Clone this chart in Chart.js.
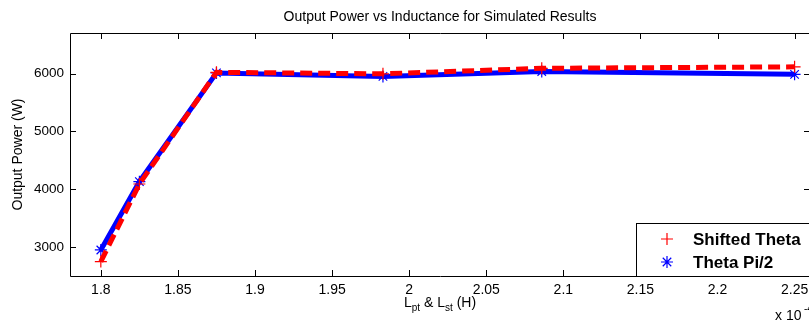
<!DOCTYPE html>
<html>
<head>
<meta charset="utf-8">
<script src="https://cdn.jsdelivr.net/npm/chart.js@4.4.0/dist/chart.umd.min.js"></script>
<style>
	html, body { margin: 0; padding: 0; background: #fff; overflow: hidden; }
	#wrap { width: 830px; height: 323px; }
</style>
</head>
<body>
<div id="wrap"><canvas id="chartPower" width="830" height="323"></canvas></div>
<script>
// inductance in units of 1e-4 H
const inductance = [1.8, 1.825, 1.875, 1.983, 2.086, 2.25];
const powerShifted = [2750, 4090, 6020, 5995, 6090, 6115];
const powerPiHalf = [2950, 4130, 6010, 5950, 6035, 5985];

const xTicks = [1.8, 1.85, 1.9, 1.95, 2, 2.05, 2.1, 2.15, 2.2, 2.25];
const yTicks = [3000, 4000, 5000, 6000];

const FONT = "'Liberation Sans', Arial, sans-serif";
const TITLE = "Output Power vs Inductance for Simulated Results";

function toPoints(ys) {
	return inductance.map(function(x, i){ return {x: x, y: ys[i]}; });
}

// box, inward ticks, legend and axis text that chart.js can't do (subscripts)
const matlabBox = {
	id: "matlabBox",
	afterDraw: function(chart) {
		const ctx = chart.ctx;
		const a = chart.chartArea;
		const xs = chart.scales.x, ys = chart.scales.y;
		const tl = 6;
		ctx.save();
		ctx.strokeStyle = "#000";
		ctx.lineWidth = 1;
		ctx.beginPath();
		ctx.rect(a.left + 0.5, a.top + 0.5, a.right - a.left, a.bottom - a.top);
		xTicks.forEach(function(v){
			const px = Math.round(xs.getPixelForValue(v)) + 0.5;
			ctx.moveTo(px, a.bottom); ctx.lineTo(px, a.bottom - tl);
			ctx.moveTo(px, a.top); ctx.lineTo(px, a.top + tl);
		});
		yTicks.forEach(function(v){
			const py = Math.round(ys.getPixelForValue(v)) + 0.5;
			ctx.moveTo(a.left, py); ctx.lineTo(a.left + tl, py);
			ctx.moveTo(a.right, py); ctx.lineTo(a.right - tl, py);
		});
		ctx.stroke();

		// title, centred over the axes
		ctx.fillStyle = "#000";
		ctx.font = "14px " + FONT;
		ctx.textAlign = "center";
		ctx.textBaseline = "middle";
		ctx.fillText(TITLE, (a.left + a.right) / 2, 17);

		// legend
		const lx = 636.5, ly = 223.5;
		ctx.fillStyle = "#fff";
		ctx.fillRect(lx, ly, 200, a.bottom - ly);
		ctx.strokeRect(lx, ly, 200, a.bottom - ly + 0.5);
		ctx.font = "bold 17px " + FONT;
		ctx.textBaseline = "middle";
		ctx.textAlign = "left";
		chart.data.datasets.forEach(function(ds, i){
			const yy = 239 + i * 23;
			ctx.strokeStyle = ds.borderColor;
			ctx.lineWidth = 1.2;
			Chart.helpers.drawPoint(ctx, {pointStyle: ds.pointStyle, radius: 6, borderWidth: 1.2, rotation: 0}, 667, yy);
			ctx.fillStyle = "#000";
			ctx.fillText(ds.label, 693, yy + 1);
		});

		// x axis title with subscripts
		const parts = [["L", 14, 0], ["pt", 10, 4], [" & L", 14, 0], ["st", 10, 4], [" (H)", 14, 0]];
		let w = 0;
		parts.forEach(function(p){ ctx.font = p[1] + "px " + FONT; w += ctx.measureText(p[0]).width; });
		let cx = (a.left + a.right) / 2 - w / 2;
		ctx.textBaseline = "alphabetic";
		parts.forEach(function(p){
			ctx.font = p[1] + "px " + FONT;
			ctx.fillText(p[0], cx, 307 + p[2]);
			cx += ctx.measureText(p[0]).width;
		});

		// exponent
		ctx.font = "14px " + FONT;
		ctx.fillText("x 10", 775, 320);
		ctx.font = "10px " + FONT;
		ctx.fillText("-4", 804, 312);
		ctx.restore();
	}
};

const powerChart = new Chart(document.getElementById("chartPower"), {
	type: "line",
	data: {
		datasets: [{
			label: "Shifted Theta",
			data: toPoints(powerShifted),
			borderColor: "#ff0000",
			backgroundColor: "#ff0000",
			borderWidth: 5,
			borderDash: [12, 6],
			borderCapStyle: "butt",
			pointStyle: "cross",
			pointRadius: 6,
			pointBorderWidth: 1.2,
			pointBorderColor: "#ff0000",
			tension: 0
		}, {
			label: "Theta Pi/2",
			data: toPoints(powerPiHalf),
			borderColor: "#0000ff",
			backgroundColor: "#0000ff",
			borderWidth: 5,
			pointStyle: "star",
			pointRadius: 6,
			pointBorderWidth: 1.2,
			pointBorderColor: "#0000ff",
			tension: 0
		}]
	},
	options: {
		responsive: false,
		animation: false,
		devicePixelRatio: 1,
		layout: { padding: { top: 33, right: 20, left: 0, bottom: 0 } },
		plugins: {
			legend: { display: false },
			tooltip: { enabled: false },
			title: { display: false }
		},
		scales: {
			x: {
				type: "linear",
				min: 1.78,
				max: 2.26,
				afterBuildTicks: function(scale){ scale.ticks = xTicks.map(function(v){ return {value: v}; }); },
				afterFit: function(scale){ scale.height = 47; },
				grid: { display: false, drawTicks: false },
				border: { display: false },
				ticks: {
					color: "#000",
					padding: 6,
					maxRotation: 0,
					font: { family: FONT, size: 14 },
					callback: function(v){ return String(v); }
				}
			},
			y: {
				min: 2500,
				max: 6700,
				afterBuildTicks: function(scale){ scale.ticks = yTicks.map(function(v){ return {value: v}; }); },
				afterFit: function(scale){ scale.width = 70; },
				grid: { display: false, drawTicks: false },
				border: { display: false },
				ticks: {
					color: "#000",
					padding: 6,
					font: { family: FONT, size: 13.5 },
					callback: function(v){ return String(v); }
				},
				title: {
					display: true,
					text: "Output Power (W)",
					color: "#000",
					font: { family: FONT, size: 14 },
					padding: { top: 10, bottom: 0 }
				}
			}
		}
	},
	plugins: [matlabBox]
});
</script>
</body>
</html>
